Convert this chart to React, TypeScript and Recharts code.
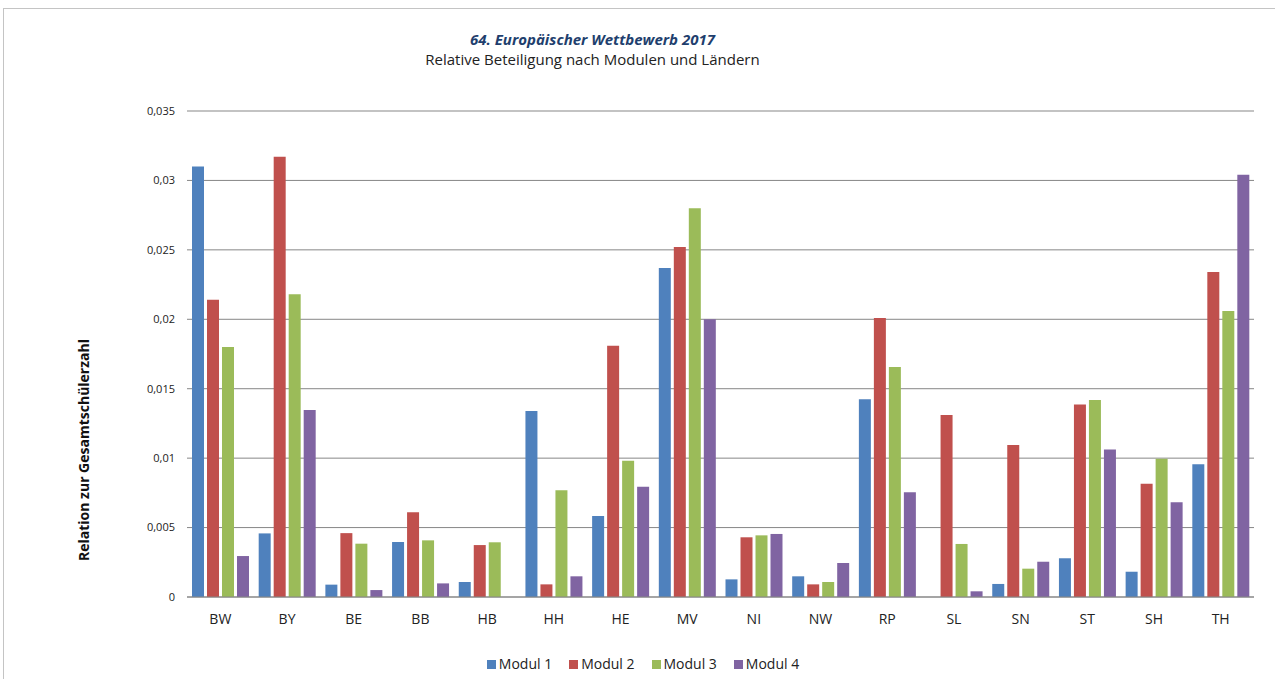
import React from 'react';
import { BarChart, Bar, XAxis, YAxis, CartesianGrid, Legend } from 'recharts';

const categories = ['BW', 'BY', 'BE', 'BB', 'HB', 'HH', 'HE', 'MV', 'NI', 'NW', 'RP', 'SL', 'SN', 'ST', 'SH', 'TH'];
const modul1 = [0.031, 0.00458, 0.00089, 0.00396, 0.00108, 0.0134, 0.00583, 0.0237, 0.00127, 0.00149, 0.01424, 0, 0.00094, 0.00279, 0.00182, 0.00956];
const modul2 = [0.0214, 0.0317, 0.0046, 0.0061, 0.00374, 0.00091, 0.0181, 0.0252, 0.0043, 0.00091, 0.0201, 0.0131, 0.01095, 0.01387, 0.00816, 0.0234];
const modul3 = [0.018, 0.0218, 0.00384, 0.00408, 0.00394, 0.00768, 0.00982, 0.028, 0.00444, 0.00108, 0.01656, 0.00382, 0.00204, 0.01419, 0.00996, 0.0206];
const modul4 = [0.00295, 0.01347, 0.0005, 0.00098, 0, 0.00149, 0.00794, 0.02, 0.00454, 0.00245, 0.00754, 0.00041, 0.00254, 0.01063, 0.00682, 0.0304];
const yTicks = [0, 0.005, 0.01, 0.015, 0.02, 0.025, 0.03, 0.035];

const seriesNames = ['Modul 1', 'Modul 2', 'Modul 3', 'Modul 4'];
const seriesColors = ['#4F81BD', '#C0504D', '#9BBB59', '#8064A2'];

const data = categories.map((c, i) => ({
  name: c,
  m1: modul1[i],
  m2: modul2[i],
  m3: modul3[i],
  m4: modul4[i],
}));

const FONT = '"Open Sans", "DejaVu Sans", sans-serif';

const renderLegend = () => (
  <div
    style={{
      display: 'flex',
      justifyContent: 'center',
      alignItems: 'center',
      fontFamily: FONT,
      fontSize: 14,
      color: '#222',
      lineHeight: '20px',
    }}
  >
    {seriesNames.map((n, i) => (
      <div key={n} style={{ display: 'flex', alignItems: 'center', marginRight: i < 3 ? 17 : 0 }}>
        <span style={{ display: 'inline-block', width: 9, height: 9, background: seriesColors[i], marginRight: 3 }} />
        <span>{n}</span>
      </div>
    ))}
  </div>
);

export default function App() {
  return (
    <div style={{ position: 'absolute', left: 0, top: 0, width: 1275, height: 679, overflow: 'hidden', background: '#fff' }}>
      <div
        style={{
          position: 'absolute',
          left: 3,
          top: 8,
          width: 1300,
          height: 700,
          border: '1px solid #c4c4c4',
          boxSizing: 'border-box',
        }}
      />
      <div
        style={{
          position: 'absolute',
          left: 0,
          width: 1185,
          top: 29,
          textAlign: 'center',
          fontFamily: FONT,
          fontSize: 15,
          fontWeight: 700,
          fontStyle: 'italic',
          color: '#1F3F6E',
          lineHeight: '20px',
        }}
      >
        64. Europäischer Wettbewerb 2017
      </div>
      <div
        style={{
          position: 'absolute',
          left: 0,
          width: 1185,
          top: 49,
          textAlign: 'center',
          fontFamily: FONT,
          fontSize: 15,
          color: '#222',
          lineHeight: '20px',
        }}
      >
        Relative Beteiligung nach Modulen und Ländern
      </div>
      <div
        style={{
          position: 'absolute',
          left: 83,
          top: 450,
          transform: 'translate(-50%, -50%) rotate(-90deg)',
          whiteSpace: 'nowrap',
          fontFamily: FONT,
          fontSize: 14,
          fontWeight: 700,
          color: '#111',
        }}
      >
        Relation zur Gesamtschülerzahl
      </div>
      <div style={{ position: 'absolute', left: 0, top: 0 }}>
        <BarChart
          width={1275}
          height={679}
          data={data}
          margin={{ top: 111, right: 21, bottom: 52, left: 127 }}
          barCategoryGap={5}
          barGap={3}
        >
          <CartesianGrid vertical={false} stroke="#878787" strokeWidth={1} />
          <XAxis
            dataKey="name"
            axisLine={{ stroke: '#878787' }}
            tickLine={false}
            tickSize={6}
            tickMargin={11}
            height={30}
            interval={0}
            tick={{ fontFamily: FONT, fontSize: 14, fill: '#222' }}
          />
          <YAxis
            width={60}
            domain={[0, 0.035]}
            ticks={yTicks}
            axisLine={false}
            tickLine={false}
            tickSize={6}
            tickMargin={6}
            tickFormatter={(v: number) => String(v).replace('.', ',')}
            tick={{ fontFamily: FONT, fontSize: 11, fill: '#222' }}
          />
          <Legend
            verticalAlign="middle"
            align="center"
            layout="horizontal"
            content={renderLegend}
            wrapperStyle={{ top: 654, left: 0, width: 1286 }}
          />
          <Bar dataKey="m1" name="Modul 1" fill={seriesColors[0]} isAnimationActive={false} />
          <Bar dataKey="m2" name="Modul 2" fill={seriesColors[1]} isAnimationActive={false} />
          <Bar dataKey="m3" name="Modul 3" fill={seriesColors[2]} isAnimationActive={false} />
          <Bar dataKey="m4" name="Modul 4" fill={seriesColors[3]} isAnimationActive={false} />
        </BarChart>
      </div>
    </div>
  );
}
